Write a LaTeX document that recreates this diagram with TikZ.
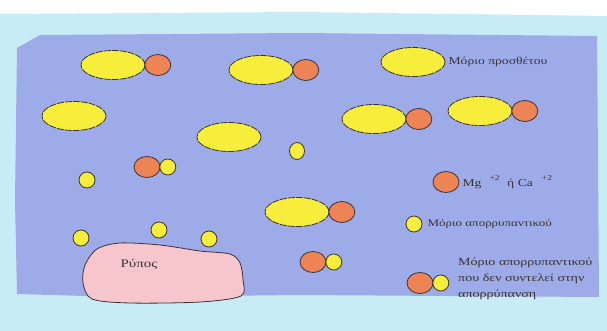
\documentclass[tikz,border=0pt]{standalone}
\usepackage{fontspec}
\setmainfont{Liberation Serif}
\newfontfamily\scanfont[FakeStretch=1.3]{Liberation Serif}
\usetikzlibrary{positioning,shapes.geometric}

\definecolor{washcyan}{HTML}{C8ECF6}
\definecolor{waterblue}{HTML}{9DACE8}
\definecolor{addyellow}{HTML}{F6EE3A}
\definecolor{ionorange}{HTML}{EE8456}
\definecolor{dirtpink}{HTML}{F6C6CC}
\definecolor{inkgray}{HTML}{3C3232}

\begin{document}
\begin{tikzpicture}[
  x=1pt, y=-1pt,
  font=\scanfont\fontsize{10.5}{12}\selectfont,
  add/.style={ellipse, draw=inkgray, thick, dash pattern=on 7pt off 1pt,
    fill=addyellow, minimum width=64pt, minimum height=29pt, inner sep=0pt},
  ion/.style={ellipse, draw=inkgray, thick, fill=ionorange,
    minimum width=26pt, minimum height=21pt, inner sep=0pt},
  det/.style={ellipse, draw=inkgray, thick, fill=addyellow,
    minimum width=16pt, minimum height=16pt, inner sep=0pt},
  lbl/.style={text=inkgray, inner sep=1pt, anchor=west}
]
\useasboundingbox (0,0) rectangle (607,331);
% background wash and water
\fill[white] (0,0) rectangle (607,331);
\fill[washcyan] (0,14) -- (300,12) -- (607,16) -- (607,331) -- (0,331) -- cycle;
\fill[waterblue] (40,35) -- (300,33) -- (597,36) -- (598,160) -- (599,297)
  -- (300,295) -- (120,297) -- (17,294) -- (15,200) -- (17,48) -- cycle;

% dirt
\draw[inkgray, thick, fill=dirtpink] plot[smooth cycle] coordinates {
  (97,249) (120,243) (160,245) (200,251) (230,254) (240,263) (243,280)
  (241,296) (200,302) (130,303) (92,299) (83,283) (85,265)};
\node[lbl, anchor=center, font=\scanfont\fontsize{11.5}{13}\selectfont] (dirt)
  at (139,264) {Ρύπος};

% additive molecules with bound ions
\node[add] (a1) at (113,65) {};
\node[ion, right=-1pt of a1] (i1) {};
\node[add] (a2) at (261,70) {};
\node[ion, right=-1pt of a2] (i2) {};
\node[add] (a3) at (374,119) {};
\node[ion, right=-1pt of a3] (i3) {};
\node[add] (a4) at (480,111) {};
\node[ion, right=-1pt of a4] (i4) {};
\node[add] (a5) at (297,212) {};
\node[ion, right=-1pt of a5] (i5) {};
% free additive molecules
\node[add] (a6) at (74,116) {};
\node[add] (a7) at (229,137) {};

% detergent molecules
\node[det, minimum width=15pt, minimum height=17pt] (d1) at (297,151) {};
\node[det] (d2) at (87,180) {};
\node[det] (d3) at (81,238) {};
\node[det] (d4) at (159,230) {};
\node[det] (d5) at (209,239) {};
% detergent molecules bound to ions
\node[ion] (i6) at (147,167) {};
\node[det, right=-1pt of i6] (d6) {};
\node[ion] (i7) at (313,262) {};
\node[det, right=-1pt of i7] (d7) {};

% legend
\node[add] (lgA) at (413,62) {};
\node[lbl, right=2pt of lgA] (lgAt) {Μόριο προσθέτου};
\node[ion] (lgI) at (446,182) {};
\node[lbl, right=2pt of lgI] (lgIt)
  {Mg\hspace{8pt}\raisebox{2pt}{\textsuperscript{+2}}\hspace{7pt}ή Ca\hspace{9pt}\raisebox{2pt}{\textsuperscript{+2}}};
\node[det] (lgD) at (414,224) {};
\node[lbl, right=4pt of lgD, font=\scanfont\fontsize{10}{12}\selectfont] (lgDt)
  {Μόριο απορρυπαντικού};
\node[ion] (lgI2) at (420,283) {};
\node[det, right=-1pt of lgI2] (lgD2) {};
\node[lbl, align=left, font=\scanfont\fontsize{10.8}{16}\selectfont] (lgBt)
  at (457,279) {Μόριο απορρυπαντικού\\ που δεν συντελεί στην\\ απορρύπανση};
\end{tikzpicture}
\end{document}
